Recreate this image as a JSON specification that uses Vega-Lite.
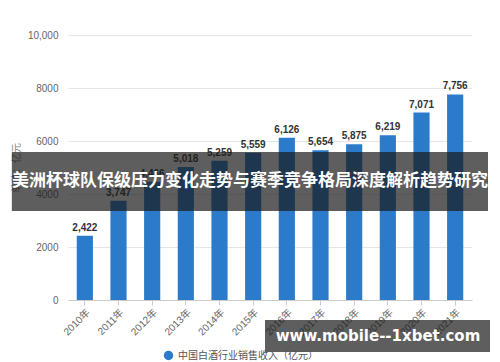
{
  "$schema": "https://vega.github.io/schema/vega-lite/v6.json",
  "width": 404,
  "height": 265,
  "autosize": "none",
  "padding": {"left": 68, "top": 35, "right": 28, "bottom": 62},
  "background": "white",
  "config": {
    "view": {"stroke": null},
    "font": "Liberation Sans, Noto Sans CJK SC",
    "axis": {"labelFont": "Liberation Sans, Noto Sans CJK SC", "titleFont": "Noto Sans CJK SC"},
    "legend": {"labelFont": "Noto Sans CJK SC"}
  },
  "datasets": {
    "sales": [
      {"year": "2010年", "value": 2422, "series": "中国白酒行业销售收入（亿元）"},
      {"year": "2011年", "value": 3747, "series": "中国白酒行业销售收入（亿元）"},
      {"year": "2012年", "value": 4466, "series": "中国白酒行业销售收入（亿元）"},
      {"year": "2013年", "value": 5018, "series": "中国白酒行业销售收入（亿元）"},
      {"year": "2014年", "value": 5259, "series": "中国白酒行业销售收入（亿元）"},
      {"year": "2015年", "value": 5559, "series": "中国白酒行业销售收入（亿元）"},
      {"year": "2016年", "value": 6126, "series": "中国白酒行业销售收入（亿元）"},
      {"year": "2017年", "value": 5654, "series": "中国白酒行业销售收入（亿元）"},
      {"year": "2018年", "value": 5875, "series": "中国白酒行业销售收入（亿元）"},
      {"year": "2019年", "value": 6219, "series": "中国白酒行业销售收入（亿元）"},
      {"year": "2020年", "value": 7071, "series": "中国白酒行业销售收入（亿元）"},
      {"year": "2021年", "value": 7756, "series": "中国白酒行业销售收入（亿元）"}
    ],
    "banner1": [{"text": "美洲杯球队保级压力变化走势与赛季竞争格局深度解析趋势研究"}],
    "banner2": [{"text": "www.mobile--1xbet.com"}]
  },
  "resolve": {"scale": {"x": "independent"}, "axis": {"x": "independent"}},
  "layer": [
    {
      "data": {"name": "sales"},
      "layer": [
        {
          "mark": {"type": "bar", "color": "#2b7bca"},
          "encoding": {
            "x": {
              "field": "year", "type": "nominal", "sort": null,
              "scale": {"paddingInner": 0.52, "paddingOuter": 0.26},
              "axis": {
                "title": null, "labelAngle": -45, "labelColor": "#666", "labelFontSize": 10,
                "domainColor": "#cccccc", "tickColor": "#cccccc", "tickSize": 5, "labelPadding": 2, "grid": false
              }
            },
            "y": {
              "field": "value", "type": "quantitative",
              "scale": {"domain": [0, 10000], "nice": false},
              "axis": {
                "title": "单位：亿元", "titleColor": "#888", "titleFontSize": 10, "titleFontWeight": "normal",
                "values": [0, 2000, 4000, 6000, 8000, 10000],
                "labelExpr": "datum.value >= 10000 ? format(datum.value, ',') : datum.value",
                "labelColor": "#666", "labelFontSize": 10, "labelPadding": 10,
                "domain": false, "ticks": false, "gridColor": "#e6e6e6", "titlePadding": 6
              }
            },
            "color": {
              "field": "series", "type": "nominal",
              "scale": {"range": ["#2b7bca"]},
              "legend": {
                "title": null, "orient": "none", "legendX": 95, "legendY": 315,
                "symbolType": "circle", "symbolSize": 90, "labelFontSize": 10, "labelColor": "#555"
              }
            }
          }
        },
        {
          "mark": {"type": "text", "dy": -8, "fontWeight": "bold", "fontSize": 10, "color": "#333"},
          "encoding": {
            "x": {"field": "year", "type": "nominal", "sort": null},
            "y": {"field": "value", "type": "quantitative"},
            "text": {"field": "value", "type": "quantitative", "format": ","}
          }
        }
      ]
    },
    {
      "layer": [
        {
          "data": {"name": "banner1"},
          "mark": {"type": "rect", "color": "#1a1a1a", "opacity": 0.7},
          "encoding": {
            "x": {"datum": -13.9, "type": "quantitative", "scale": {"domain": [0, 100], "nice": false, "zero": false}, "axis": null},
            "x2": {"datum": 103.96},
            "y": {"datum": 5585, "type": "quantitative"},
            "y2": {"datum": 3358}
          }
        },
        {
          "data": {"name": "banner1"},
          "mark": {"type": "text", "color": "white", "fontWeight": "bold", "fontSize": 17, "font": "Noto Sans CJK SC", "align": "center", "baseline": "middle"},
          "encoding": {
            "x": {"datum": 45.05, "type": "quantitative", "axis": null},
            "y": {"datum": 4472, "type": "quantitative"},
            "text": {"field": "text"}
          }
        },
        {
          "data": {"name": "banner2"},
          "mark": {"type": "rect", "color": "#1a1a1a", "opacity": 0.7},
          "encoding": {
            "x": {"datum": 48.76, "type": "quantitative", "axis": null},
            "x2": {"datum": 104.46},
            "y": {"datum": -755, "type": "quantitative"},
            "y2": {"datum": -1962}
          }
        },
        {
          "data": {"name": "banner2"},
          "mark": {"type": "text", "color": "white", "fontWeight": "bold", "fontSize": 15, "font": "DejaVu Sans", "align": "center", "baseline": "middle"},
          "encoding": {
            "x": {"datum": 76.73, "type": "quantitative", "axis": null},
            "y": {"datum": -1358, "type": "quantitative"},
            "text": {"field": "text"}
          }
        }
      ]
    }
  ]
}
